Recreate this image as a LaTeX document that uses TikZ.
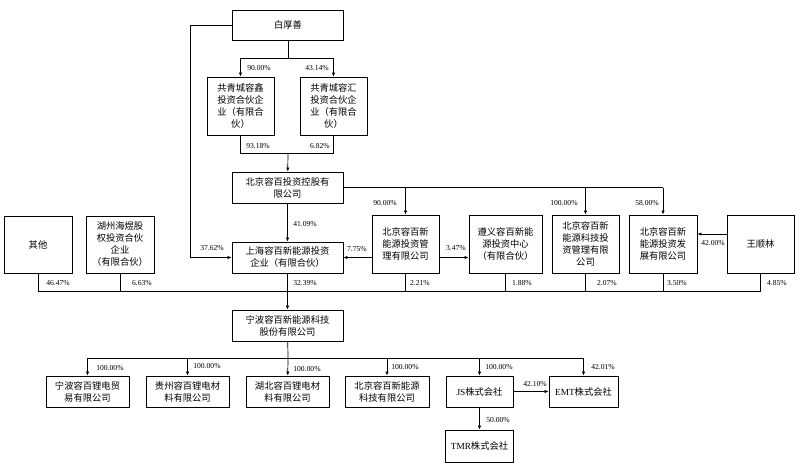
\documentclass[tikz,border=0pt]{standalone}
\usepackage{fontspec}
\setmainfont{Liberation Serif}
\newfontfamily\cjk{Noto Sans CJK SC}
\usetikzlibrary{arrows.meta}

\tikzset{
	box/.style={draw, line width=0.9pt, align=center, inner sep=1pt, font=\cjk\fontsize{9.3}{12}\selectfont},
	pct/.style={inner sep=0pt, font=\fontsize{7.6}{8}\selectfont},
	arr/.style={-{Latex[length=4pt,width=3.4pt]}},
}

\begin{document}
\begin{tikzpicture}[x=1pt,y=-1pt,line width=0.7pt]
		\useasboundingbox (0,0) rectangle (809,466);
		% holders
		\node[box, minimum width=111, minimum height=30] (bai) at (288,25) {白厚善};
		\node[box, minimum width=67, minimum height=58] (xin) at (240.5,106) {共青城容鑫\\投资合伙企\\业（有限合\\伙）};
		\node[box, minimum width=67, minimum height=58] (hui) at (333.5,106) {共青城容汇\\投资合伙企\\业（有限合\\伙）};
		\node[box, minimum width=111, minimum height=31] (kong) at (287.5,187.5) {北京容百投资控股有\\限公司};
		\node[box, minimum width=111, minimum height=31] (shh) at (287.5,257.5) {上海容百新能源投资\\企业（有限合伙）};
		
		\node[box, minimum width=68, minimum height=57] (qita) at (38,244.5) {其他};
		\node[box, minimum width=68, minimum height=57] (huzhou) at (120,244.5) {湖州海煜股\\权投资合伙\\企业\\（有限合伙）};
		\node[box, minimum width=67, minimum height=58] (guan) at (405.5,244) {北京容百新\\能源投资管\\理有限公司};
		\node[box, minimum width=73, minimum height=58] (zunyi) at (505.5,244) {遵义容百新能\\源投资中心\\（有限合伙）};
		\node[box, minimum width=67, minimum height=58] (keji) at (585.5,244) {北京容百新\\能源科技投\\资管理有限\\公司};
		\node[box, minimum width=68, minimum height=58] (fazhan) at (663,244) {北京容百新\\能源投资发\\展有限公司};
		\node[box, minimum width=67, minimum height=58] (wang) at (760.5,244) {王顺林};
		
		% issuer and subsidiaries
		\node[box, minimum width=111, minimum height=31] (ningbo) at (287.5,325.5) {宁波容百新能源科技\\股份有限公司};
		\node[box, minimum width=83, minimum height=31] (nbmy) at (87.5,391.5) {宁波容百锂电贸\\易有限公司};
		\node[box, minimum width=83, minimum height=31] (gz) at (187.5,391.5) {贵州容百锂电材\\料有限公司};
		\node[box, minimum width=83, minimum height=31] (hb) at (287.5,391.5) {湖北容百锂电材\\料有限公司};
		\node[box, minimum width=84, minimum height=31] (bjkj) at (387,391.5) {北京容百新能源\\科技有限公司};
		\node[box, minimum width=67, minimum height=31] (js) at (479.5,391.5) {{\rmfamily JS}株式会社};
		\node[box, minimum width=69, minimum height=31] (emt) at (583.5,391.5) {{\rmfamily EMT}株式会社};
		\node[box, minimum width=68, minimum height=32] (tmr) at (479.5,446) {{\rmfamily TMR}株式会社};
		
		\coordinate (bsplit) at (288,58);
		\coordinate (bmerge) at (288,153);
		\coordinate (bleft) at (190,25);
		\coordinate (kright) at (663,187.5);
		\coordinate (bus) at (288,291);
		\coordinate (nsplit) at (288,358);
		
		% connectors
		\draw (bai) -- (bsplit);
		\draw[arr] (bsplit) -| (xin);
		\draw[arr] (bsplit) -| (hui);
		\draw (xin) |- (bmerge);
		\draw (hui) |- (bmerge);
		\draw[arr] (bmerge) -- (kong);
		\draw[arr] (bai.west) -- (bleft) |- (shh.west);
		\draw[arr] (kong) -- (shh);
		\draw (kong.east) -- (kright);
		\draw[arr] (kong.east -| guan) -- (guan);
		\draw[arr] (kong.east -| keji) -- (keji);
		\draw[arr] (kright) -- (fazhan);
		\draw[arr] (guan.west |- shh) -- (shh);
		\draw[arr] (guan.east |- shh) -- (zunyi.west |- shh);
		\draw[arr] ([yshift=10pt]wang.west) -- ([yshift=10pt]fazhan.east);
		
		\draw (qita) |- (bus);
		\draw (huzhou) |- (bus);
		\draw (guan) |- (bus);
		\draw (zunyi) |- (bus);
		\draw (keji) |- (bus);
		\draw (fazhan) |- (bus);
		\draw (wang) |- (bus);
		\draw[arr] (shh) -- (ningbo);
		
		\draw (ningbo) -- (nsplit);
		\draw[arr] (nsplit) -| (nbmy);
		\draw[arr] (nsplit) -| (gz);
		\draw[arr] (nsplit) -- (hb);
		\draw[arr] (nsplit) -| (bjkj);
		\draw[arr] (nsplit) -| (js);
		\draw[arr] (nsplit) -| (emt);
		\draw[arr] (js) -- (emt);
		\draw[arr] (js) -- (tmr);
		
		% percentages
		\node[pct] (p9000a) at (259,68) {90.00\%};
		\node[pct] (p4314) at (317,68) {43.14\%};
		\node[pct] (p9318) at (258,146) {93.18\%};
		\node[pct] (p682) at (320,146) {6.82\%};
		\node[pct] (p4109) at (305,224) {41.09\%};
		\node[pct] (p3762) at (212,248) {37.62\%};
		\node[pct] (p775) at (357,249) {7.75\%};
		\node[pct] (p347) at (456,248) {3.47\%};
		\node[pct] (p9000b) at (385,203) {90.00\%};
		\node[pct] (p10000k) at (564,203) {100.00\%};
		\node[pct] (p5800) at (647,203) {58.00\%};
		\node[pct] (p4200) at (713,243) {42.00\%};
		\node[pct] (p4647) at (58,283) {46.47\%};
		\node[pct] (p663) at (142,283) {6.63\%};
		\node[pct] (p3239) at (305,283) {32.39\%};
		\node[pct] (p221) at (420,283) {2.21\%};
		\node[pct] (p188) at (522,283) {1.88\%};
		\node[pct] (p207) at (607,283) {2.07\%};
		\node[pct] (p350) at (677,283) {3.50\%};
		\node[pct] (p485) at (777,283) {4.85\%};
		\node[pct] (p10000a) at (110,368) {100.00\%};
		\node[pct] (p10000b) at (207,366) {100.00\%};
		\node[pct] (p10000c) at (307,369) {100.00\%};
		\node[pct] (p10000d) at (405,367) {100.00\%};
		\node[pct] (p10000e) at (499,367) {100.00\%};
		\node[pct] (p4201) at (603,367) {42.01\%};
		\node[pct] (p4210) at (535,384) {42.10\%};
		\node[pct] (p5000) at (498,420) {50.00\%};
\end{tikzpicture}
\end{document}
